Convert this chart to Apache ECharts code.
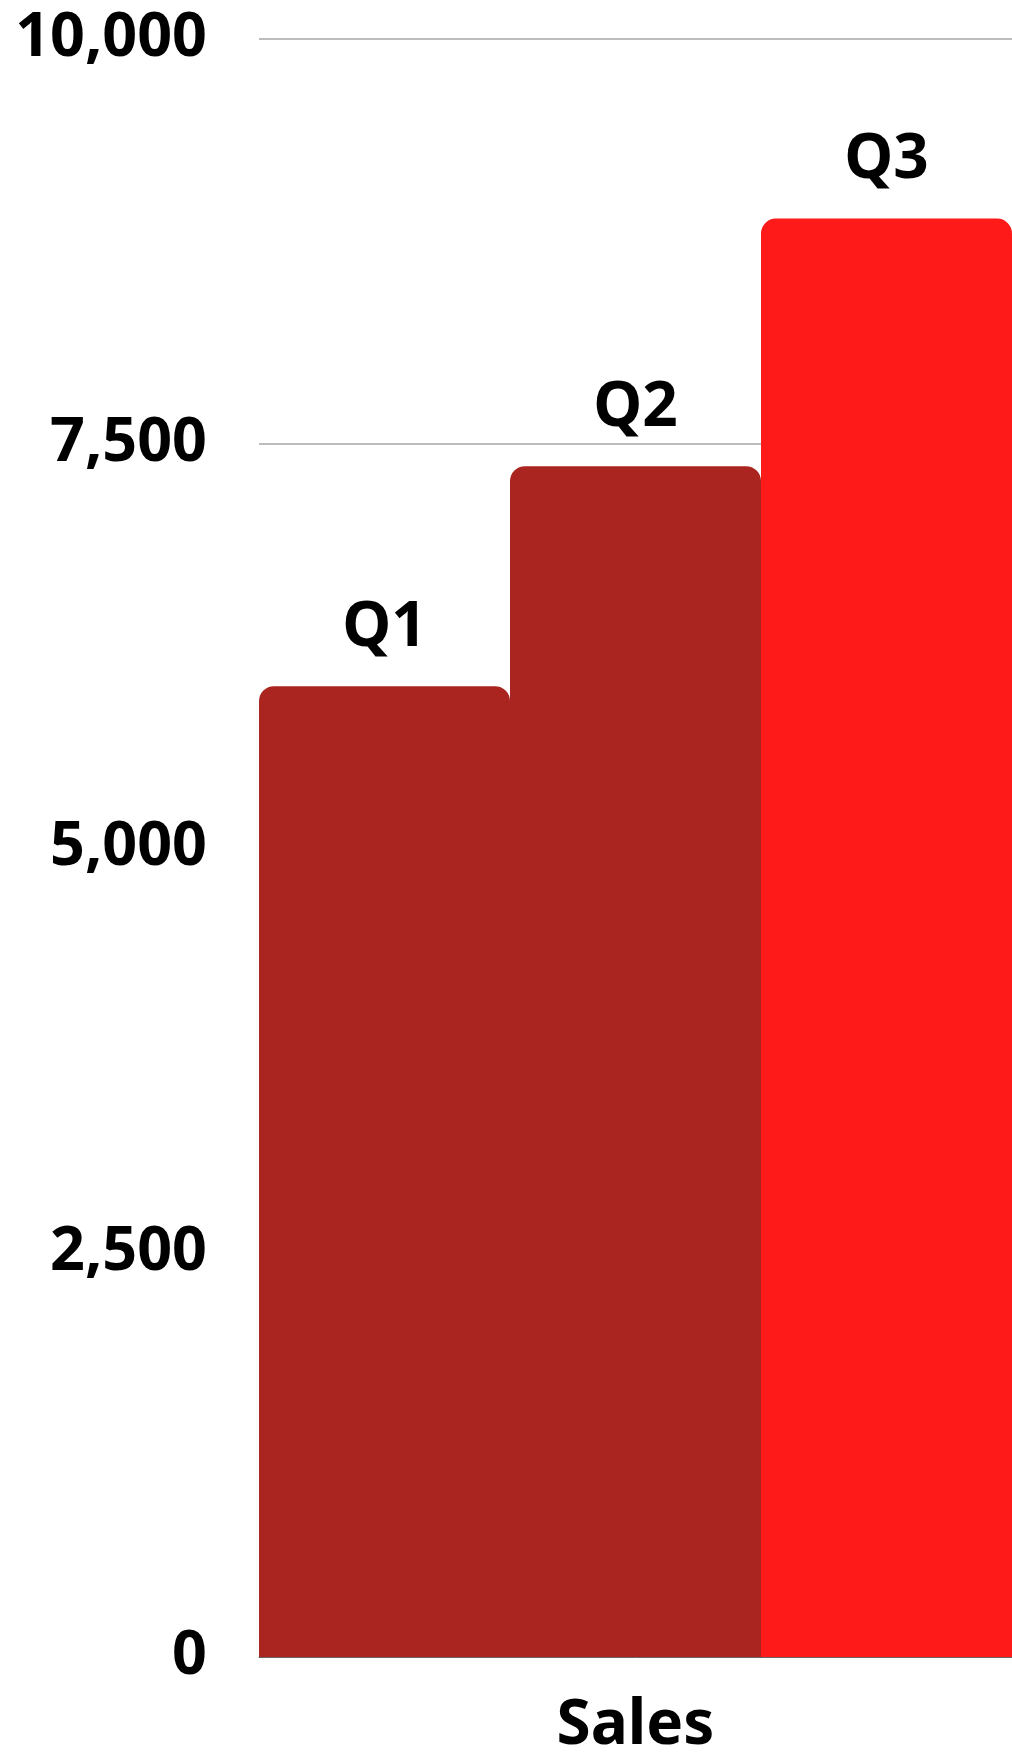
<!DOCTYPE html>
<html>
<head>
<meta charset="utf-8">
<script src="https://cdn.jsdelivr.net/npm/echarts@6/dist/echarts.min.js"></script>
<style>
html,body{margin:0;padding:0;background:#fff;}
#chart{width:1012px;height:1757px;}
</style>
</head>
<body>
<div id="chart"></div>
<script>
const categories = ['Sales'];
const seriesNames = ['Q1', 'Q2', 'Q3'];
const q1Values = [6000];
const q2Values = [7360];
const q3Values = [8890];
const seriesColors = ['#AA251F', '#AA251F', '#FF1A1A'];
const yTicks = [0, 2500, 5000, 7500, 10000];

const allValues = [q1Values, q2Values, q3Values];
const chart = echarts.init(document.getElementById('chart'));
const font = '"Noto Sans", sans-serif';

chart.setOption({
  animation: false,
  backgroundColor: '#ffffff',
  grid: { left: 259, right: -3, top: 39, bottom: 98 },
  xAxis: {
    type: 'category',
    data: categories,
    axisTick: { show: false },
    axisLine: { show: true, lineStyle: { color: '#666666', width: 1 } },
    axisLabel: { color: '#000', fontFamily: font, fontWeight: 'bold', fontSize: 62, margin: 38 }
  },
  yAxis: {
    type: 'value',
    min: yTicks[0],
    max: yTicks[yTicks.length - 1],
    interval: yTicks[1] - yTicks[0],
    axisLine: { show: false },
    axisTick: { show: false },
    splitLine: { lineStyle: { color: '#bdbdbd', width: 2 } },
    axisLabel: {
      color: '#000', fontFamily: font, fontWeight: 'bold', fontSize: 61, margin: 52,
      formatter: v => v.toLocaleString('en-US')
    }
  },
  series: seriesNames.map((name, i) => ({
    name: name,
    type: 'bar',
    data: allValues[i],
    barGap: '0%',
    barCategoryGap: '0%',
    itemStyle: { color: seriesColors[i], borderRadius: [15, 15, 0, 0] },
    label: {
      show: true,
      position: 'top',
      distance: 27,
      formatter: '{a}',
      color: '#000',
      fontFamily: font,
      fontWeight: 'bold',
      fontSize: 62
    }
  }))
});
</script>
</body>
</html>
